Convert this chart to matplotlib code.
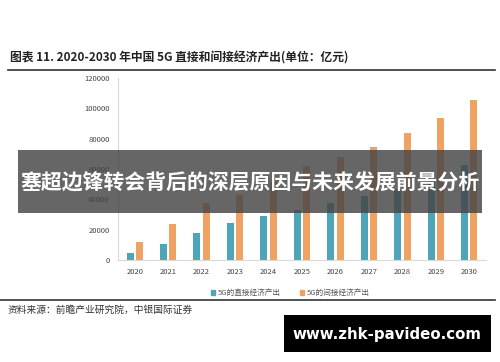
import numpy as np
import matplotlib.pyplot as plt
from matplotlib.patches import Rectangle
from matplotlib.lines import Line2D

plt.rcParams['font.family'] = ['Noto Sans CJK SC', 'DejaVu Sans']

# data (unit: 100 million yuan)
years = ['2020', '2021', '2022', '2023', '2024', '2025', '2026', '2027', '2028', '2029', '2030']
direct = [4800, 10300, 17800, 24600, 29000, 33000, 37500, 42000, 47000, 53000, 62600]
indirect = [12000, 23500, 37400, 43000, 51500, 62000, 68000, 74300, 84000, 93400, 105500]
yticks = [0, 20000, 40000, 60000, 80000, 100000, 120000]

title = '图表 11. 2020-2030 年中国 5G 直接和间接经济产出(单位：亿元)'
source = '资料来源：前瞻产业研究院，中银国际证券'
legend_labels = ['5G的直接经济产出', '5G的间接经济产出']
banner = '塞超边锋转会背后的深层原因与未来发展前景分析'
site = 'www.zhk-pavideo.com'

teal = '#4ea5b7'
orange = '#f0a262'

fig = plt.figure(figsize=(5, 3.62), dpi=100)
ax = fig.add_axes([0.236, 0.2818, 0.736, 0.5027])

x = np.arange(len(years))
w = 0.21
ax.bar(x - 0.14, direct, w, color=teal)
ax.bar(x + 0.14, indirect, w, color=orange)

ax.set_xlim(-0.5, len(years) - 0.5)
ax.set_ylim(0, 120000)
ax.set_yticks(yticks)
ax.set_yticklabels([str(v) for v in yticks], fontsize=5.5, color='#444444')
ax.set_xticks(x)
ax.set_xticklabels(years, fontsize=5.5, color='#444444')
ax.tick_params(length=0, pad=6)
for s in ['top', 'right']:
    ax.spines[s].set_visible(False)
for s in ['left', 'bottom']:
    ax.spines[s].set_color('#d9d9d9')
    ax.spines[s].set_linewidth(0.8)

# title and rules
fig.text(0.02, 1 - 58 / 362, title, fontsize=8.5, fontweight='bold', va='center', color='#222222')
fig.add_artist(Line2D([0.016, 0.99], [1 - 70 / 362] * 2, color='#333333', lw=1.2))
fig.add_artist(Line2D([0.0, 0.99], [1 - 300 / 362] * 2, color='#333333', lw=1.2))

# legend
handles = [Rectangle((0, 0), 1, 1, color=teal), Rectangle((0, 0), 1, 1, color=orange)]
fig.legend(handles, legend_labels, loc='center', bbox_to_anchor=(0.58, 1 - 293 / 362),
           ncol=2, frameon=False, fontsize=5.5, handlelength=0.6, handleheight=0.6,
           handletextpad=0.3, columnspacing=2.5, labelcolor='#555555')

fig.text(0.016, 1 - 310 / 362, source, fontsize=7, va='center', color='#333333')

# overlay banner
fig.add_artist(Rectangle((18 / 500, 1 - 213 / 362), 464 / 500, 63 / 362,
                         transform=fig.transFigure, color='#444444', alpha=0.82, lw=0))
fig.text(0.5, 1 - 183 / 362, banner, fontsize=15, fontweight='bold', color='white',
         ha='center', va='center')

# watermark box
fig.add_artist(Rectangle((284 / 500, 1 - 352 / 362), 207 / 500, 37 / 362,
                         transform=fig.transFigure, color='black', lw=0))
fig.text(387 / 500, 1 - 334 / 362, site, fontsize=10.8, fontweight='bold', color='white',
         ha='center', va='center', family='DejaVu Sans')

fig.savefig('out.png', dpi=100)
